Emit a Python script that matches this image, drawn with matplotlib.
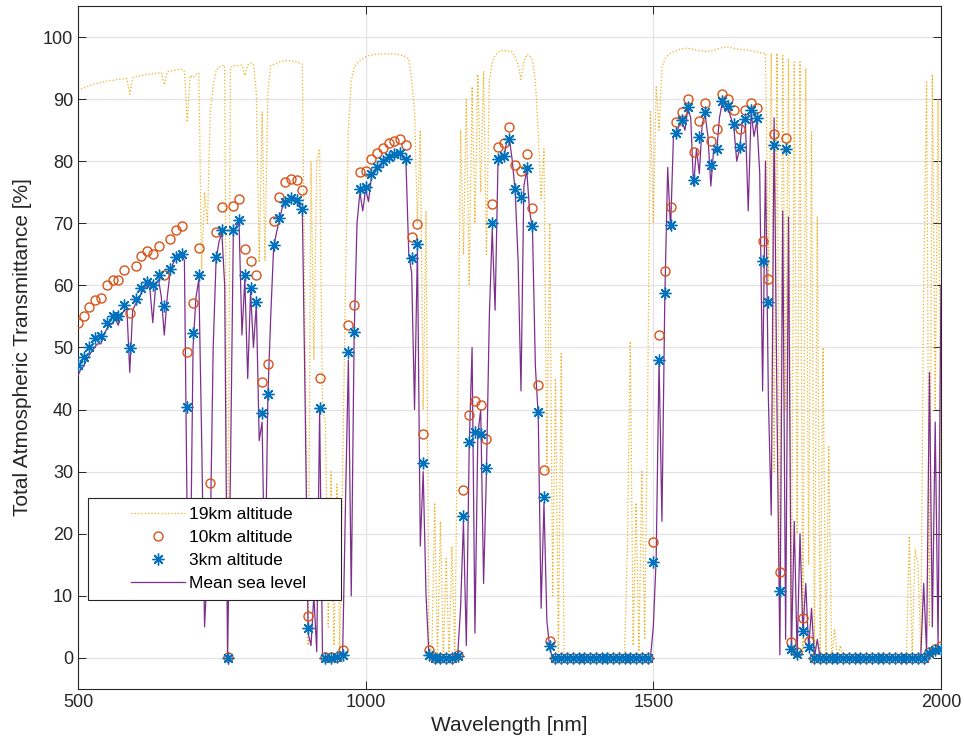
import numpy as np
import matplotlib
matplotlib.use("Agg")
import matplotlib.pyplot as plt
from matplotlib.lines import Line2D
from matplotlib.legend_handler import HandlerLine2D

plt.rcParams['font.family'] = ['Liberation Sans', 'DejaVu Sans']

# wavelength grids [nm]
wl_coarse = np.arange(500, 2001, 10)   # marker series
wl_fine = np.arange(500, 2001, 5)      # line series

# 10km altitude transmittance [%] (10 nm steps)
alt10_pct = [
    53.9, 55.1, 56.6, 57.6, 58.0, 60.0, 60.9, 60.8, 62.5, 55.6,
    63.1, 64.8, 65.5, 65.1, 66.4, 61.7, 67.4, 69.0, 69.6, 49.3,
    57.1, 66.0, 20.0, 28.1, 68.6, 72.7, 0.1, 72.8, 73.9, 65.9,
    63.9, 61.6, 44.5, 47.3, 70.3, 74.3, 76.7, 77.2, 76.9, 75.4,
    6.8, 18.0, 45.1, 0.1, 0.1, 0.2, 1.2, 53.6, 56.9, 78.3,
    78.5, 80.3, 81.3, 82.2, 82.9, 83.3, 83.6, 82.6, 67.8, 69.9,
    36.1, 1.3, 0.0, 0.0, 0.0, 0.0, 0.5, 27.0, 39.2, 41.4,
    40.7, 35.3, 73.1, 82.3, 83.0, 85.5, 79.4, 78.4, 81.2, 72.5,
    43.9, 30.2, 2.7, 0.0, 0.0, 0.0, 0.0, 0.0, 0.0, 0.0,
    0.0, 0.0, 0.0, 0.0, 0.0, 0.0, 0.0, 0.0, 0.0, 0.0,
    18.7, 52.0, 62.3, 72.6, 86.3, 88.0, 90.0, 81.5, 86.5, 89.3,
    83.3, 85.2, 90.8, 90.1, 88.2, 85.2, 88.2, 89.4, 88.5, 67.2,
    61.0, 84.4, 13.9, 83.7, 2.6, 1.0, 6.4, 2.8, 0.0, 0.0,
    0.0, 0.0, 0.0, 0.0, 0.0, 0.0, 0.0, 0.0, 0.0, 0.0,
    0.0, 0.0, 0.0, 0.0, 0.0, 0.0, 0.0, 0.0, 1.0, 1.5,
    2.0,
]

# 3km altitude transmittance [%] (10 nm steps)
alt3_pct = [
    47.2, 48.5, 50.1, 51.5, 51.9, 54.0, 55.1, 55.1, 56.8, 49.9,
    57.8, 59.6, 60.6, 60.0, 61.6, 56.7, 62.7, 64.5, 65.1, 40.4,
    52.3, 61.6, 14.0, 22.0, 64.5, 68.9, 0.0, 69.0, 70.5, 61.6,
    59.6, 57.3, 39.5, 42.5, 66.5, 70.8, 73.5, 74.0, 73.8, 72.3,
    4.8, 14.0, 40.3, 0.0, 0.0, 0.1, 0.5, 49.2, 52.5, 75.6,
    75.8, 77.9, 79.0, 80.0, 80.7, 81.1, 81.4, 80.3, 64.4, 66.7,
    31.4, 0.5, 0.0, 0.0, 0.0, 0.0, 0.3, 22.8, 34.7, 36.4,
    36.0, 30.6, 70.1, 80.3, 80.9, 83.6, 75.6, 74.3, 78.9, 69.5,
    39.6, 25.9, 1.9, 0.0, 0.0, 0.0, 0.0, 0.0, 0.0, 0.0,
    0.0, 0.0, 0.0, 0.0, 0.0, 0.0, 0.0, 0.0, 0.0, 0.0,
    15.4, 48.0, 58.7, 69.8, 84.6, 86.6, 88.8, 77.0, 83.9, 88.0,
    79.4, 82.0, 89.7, 88.9, 86.0, 82.3, 86.8, 88.2, 86.9, 64.0,
    57.4, 82.6, 10.8, 82.0, 1.5, 0.7, 4.4, 1.7, 0.0, 0.0,
    0.0, 0.0, 0.0, 0.0, 0.0, 0.0, 0.0, 0.0, 0.0, 0.0,
    0.0, 0.0, 0.0, 0.0, 0.0, 0.0, 0.0, 0.0, 0.8, 1.2,
    1.5,
]

# mean sea level transmittance [%] (5 nm steps)
msl_pct = [
    45.5, 46.5, 47.0, 48.0, 48.8, 49.5, 50.2, 50.6, 50.6, 52.0,
    53.0, 53.5, 54.0, 54.5, 53.6, 55.0, 56.0, 56.2, 46.0, 56.0,
    57.0, 57.5, 58.8, 59.5, 60.0, 59.5, 54.0, 60.0, 61.0, 58.0,
    52.0, 58.0, 62.0, 63.5, 64.3, 65.0, 65.2, 64.0, 20.0, 10.0,
    50.0, 58.0, 61.0, 35.0, 5.0, 15.0, 20.0, 50.0, 64.0, 67.0,
    68.5, 60.0, 0.0, 30.0, 68.5, 69.5, 70.0, 52.0, 61.0, 45.0,
    59.0, 50.0, 57.0, 35.0, 38.0, 10.0, 42.0, 55.0, 66.0, 68.5,
    70.5, 72.5, 73.2, 73.8, 73.8, 73.8, 73.5, 73.0, 72.0, 40.0,
    4.0, 2.0, 10.0, 1.0, 40.0, 0.5, 0.0, 0.0, 0.0, 0.0,
    0.0, 0.5, 0.5, 25.0, 48.0, 10.0, 52.0, 70.0, 75.0, 72.0,
    75.5, 73.5, 77.5, 78.0, 78.8, 79.0, 79.8, 80.0, 80.5, 80.8,
    81.0, 81.2, 81.2, 80.5, 80.0, 65.0, 62.0, 40.0, 66.0, 18.0,
    30.0, 10.0, 0.5, 0.0, 0.0, 0.0, 0.0, 0.0, 0.0, 0.0,
    0.0, 0.0, 0.5, 8.0, 22.0, 2.0, 34.0, 50.0, 4.0, 36.0,
    40.0, 12.0, 30.0, 55.0, 69.0, 56.0, 79.5, 81.0, 80.5, 83.0,
    83.5, 80.0, 75.0, 64.0, 43.0, 76.0, 78.5, 72.0, 69.0, 47.0,
    39.0, 8.0, 25.0, 6.0, 1.5, 0.0, 0.0, 0.0, 0.0, 0.0,
    0.0, 0.0, 0.0, 0.0, 0.0, 0.0, 0.0, 0.0, 0.0, 0.0,
    0.0, 0.0, 0.0, 0.0, 0.0, 0.0, 0.0, 0.0, 0.0, 0.0,
    0.0, 0.0, 0.0, 0.0, 0.0, 0.0, 0.0, 0.0, 0.0, 0.0,
    5.0, 16.0, 48.0, 22.0, 58.0, 79.0, 69.0, 84.0, 84.0, 86.0,
    86.5, 85.0, 88.5, 87.0, 76.0, 82.0, 78.0, 86.0, 87.5, 84.0,
    76.0, 82.0, 81.5, 87.0, 89.5, 88.0, 88.5, 87.0, 85.5, 80.0,
    82.0, 86.5, 86.5, 72.0, 88.0, 84.0, 86.5, 78.0, 43.0, 80.0,
    42.0, 23.0, 87.0, 40.0, 0.5, 72.0, 3.0, 71.0, 0.5, 22.0,
    0.5, 20.0, 4.0, 12.0, 1.5, 8.0, 0.0, 3.0, 0.0, 0.0,
    0.0, 0.0, 0.0, 0.0, 0.0, 0.0, 0.0, 0.0, 0.0, 0.0,
    0.0, 0.0, 0.0, 0.0, 0.0, 0.0, 0.0, 0.0, 0.0, 0.0,
    0.0, 0.0, 0.0, 0.0, 0.0, 0.0, 0.0, 0.0, 0.0, 0.0,
    0.0, 0.0, 0.0, 0.5, 12.0, 1.0, 46.0, 5.0, 38.0, 2.0,
    60.0,
]

# 19km altitude transmittance [%] (5 nm steps)
alt19_pct = [
    91.4, 91.6, 91.8, 92.0, 92.2, 92.3, 92.5, 92.6, 92.7, 92.8,
    92.9, 93.0, 93.0, 93.1, 93.2, 93.2, 93.3, 93.3, 90.8, 93.4,
    93.6, 93.7, 93.8, 93.9, 94.0, 94.0, 94.1, 94.2, 94.2, 94.3,
    92.3, 94.4, 94.5, 94.6, 94.7, 94.8, 94.8, 94.5, 86.3, 93.8,
    93.5, 94.0, 94.2, 62.5, 75.0, 70.0, 88.0, 92.2, 94.5, 95.2,
    95.4, 95.4, 0.0, 95.0, 95.4, 95.4, 95.4, 95.5, 93.8, 95.5,
    95.8, 95.6, 91.0, 63.7, 88.0, 64.0, 91.0, 95.4, 95.6, 95.8,
    96.0, 96.1, 96.2, 96.2, 96.2, 96.1, 96.0, 95.8, 95.6, 48.0,
    2.0, 80.0, 48.0, 80.0, 82.0, 40.0, 38.0, 5.0, 30.0, 2.0,
    28.0, 1.0, 30.0, 60.0, 85.0, 93.0, 95.0, 95.8, 96.2, 96.5,
    96.8, 97.0, 97.1, 97.2, 97.2, 97.3, 97.3, 97.3, 97.3, 97.3,
    97.3, 97.2, 97.1, 97.0, 96.8, 96.5, 93.2, 88.0, 70.0, 85.0,
    40.0, 72.0, 3.0, 0.0, 25.0, 0.0, 22.0, 0.0, 16.0, 0.0,
    18.0, 0.0, 40.0, 85.0, 65.0, 90.0, 60.0, 92.0, 70.0, 94.0,
    75.0, 94.5, 65.0, 93.0, 96.0, 97.0, 97.5, 97.8, 97.8, 97.8,
    97.8, 97.6, 96.8, 95.5, 93.2, 96.0, 97.2, 97.0, 96.2, 93.0,
    84.6, 74.0, 82.0, 30.0, 70.0, 10.0, 45.0, 0.5, 49.0, 0.0,
    0.0, 0.0, 0.0, 0.0, 0.0, 0.0, 0.0, 0.0, 0.0, 0.0,
    0.0, 0.0, 0.0, 0.0, 0.0, 0.0, 0.0, 0.0, 0.0, 0.0,
    0.0, 18.0, 51.0, 2.0, 25.0, 1.0, 30.0, 3.0, 40.0, 88.0,
    70.0, 92.0, 85.0, 95.0, 96.5, 97.0, 97.4, 97.6, 97.8, 98.0,
    98.1, 98.2, 98.2, 98.1, 98.0, 97.9, 97.8, 97.8, 97.7, 97.7,
    97.8, 97.9, 98.0, 98.2, 98.3, 98.4, 98.4, 98.3, 98.2, 98.1,
    98.0, 98.0, 97.9, 97.9, 97.8, 97.7, 97.6, 97.5, 97.4, 97.4,
    60.0, 97.4, 30.0, 97.4, 5.0, 97.0, 40.0, 96.5, 2.0, 96.0,
    20.0, 96.0, 1.0, 95.0, 15.0, 84.7, 0.5, 71.0, 0.0, 50.0,
    0.0, 34.0, 0.0, 4.7, 0.0, 2.0, 0.0, 0.0, 0.0, 0.0,
    0.0, 0.0, 0.0, 0.0, 0.0, 0.0, 0.0, 0.0, 0.0, 0.0,
    0.0, 0.0, 0.0, 0.0, 0.0, 0.0, 0.0, 0.0, 0.5, 19.6,
    0.5, 17.5, 15.0, 1.0, 60.0, 92.7, 5.0, 94.0, 40.0, 90.0,
    30.0,
]

assert len(alt10_pct) == len(wl_coarse) and len(alt3_pct) == len(wl_coarse)
assert len(msl_pct) == len(wl_fine) and len(alt19_pct) == len(wl_fine)

fig = plt.figure(figsize=(9.64, 7.51), dpi=100)
ax = fig.add_axes([0.0809, 0.0826, 0.8952, 0.9094])

ax.plot(wl_fine, alt19_pct, ':', color='#EDB120', lw=0.9, zorder=2, label='19km altitude')
ax.plot(wl_coarse, alt10_pct, 'o', mfc='none', mec='#D95319', ms=6.5, mew=1.0,
        zorder=4, label='10km altitude')
ax.plot(wl_coarse, alt3_pct, ls='none', marker=(8, 2, 0), color='#0072BD', ms=8.5, mew=1.0,
        zorder=5, label='3km altitude')
ax.plot(wl_fine, msl_pct, '-', color='#7E2F8E', lw=0.9, zorder=3, label='Mean sea level')

ax.set_xlim(500, 2000)
ax.set_ylim(-5, 105)
ax.set_xticks([500, 1000, 1500, 2000])
ax.set_yticks(np.arange(0, 101, 10))
ax.grid(True, color='#e3e3e3', lw=0.9)
ax.set_axisbelow(True)
ax.tick_params(direction='in', length=6, width=0.7, top=True, right=True,
               labelsize=13, colors='#262626')
for s in ax.spines.values():
    s.set_color('#262626')
    s.set_linewidth(0.8)

ax.set_xlabel('Wavelength [nm]', fontsize=15, color='#262626')
ax.set_ylabel('Total Atmospheric Transmittance [%]', fontsize=15, color='#262626',
              labelpad=8)

leg = ax.legend(loc='lower left', bbox_to_anchor=(0.0116, 0.1303, 0.2932, 0.149),
                mode='expand', borderaxespad=0, fontsize=12.5, fancybox=False,
                framealpha=1, edgecolor='#262626', borderpad=0.49, labelspacing=0.46,
                handlelength=5.1, handletextpad=0.25, numpoints=1,
                handler_map={Line2D: HandlerLine2D(xpad=2.0)})
leg.get_frame().set_linewidth(0.8)
leg.set_zorder(10)

fig.savefig('out.png', dpi=100)
